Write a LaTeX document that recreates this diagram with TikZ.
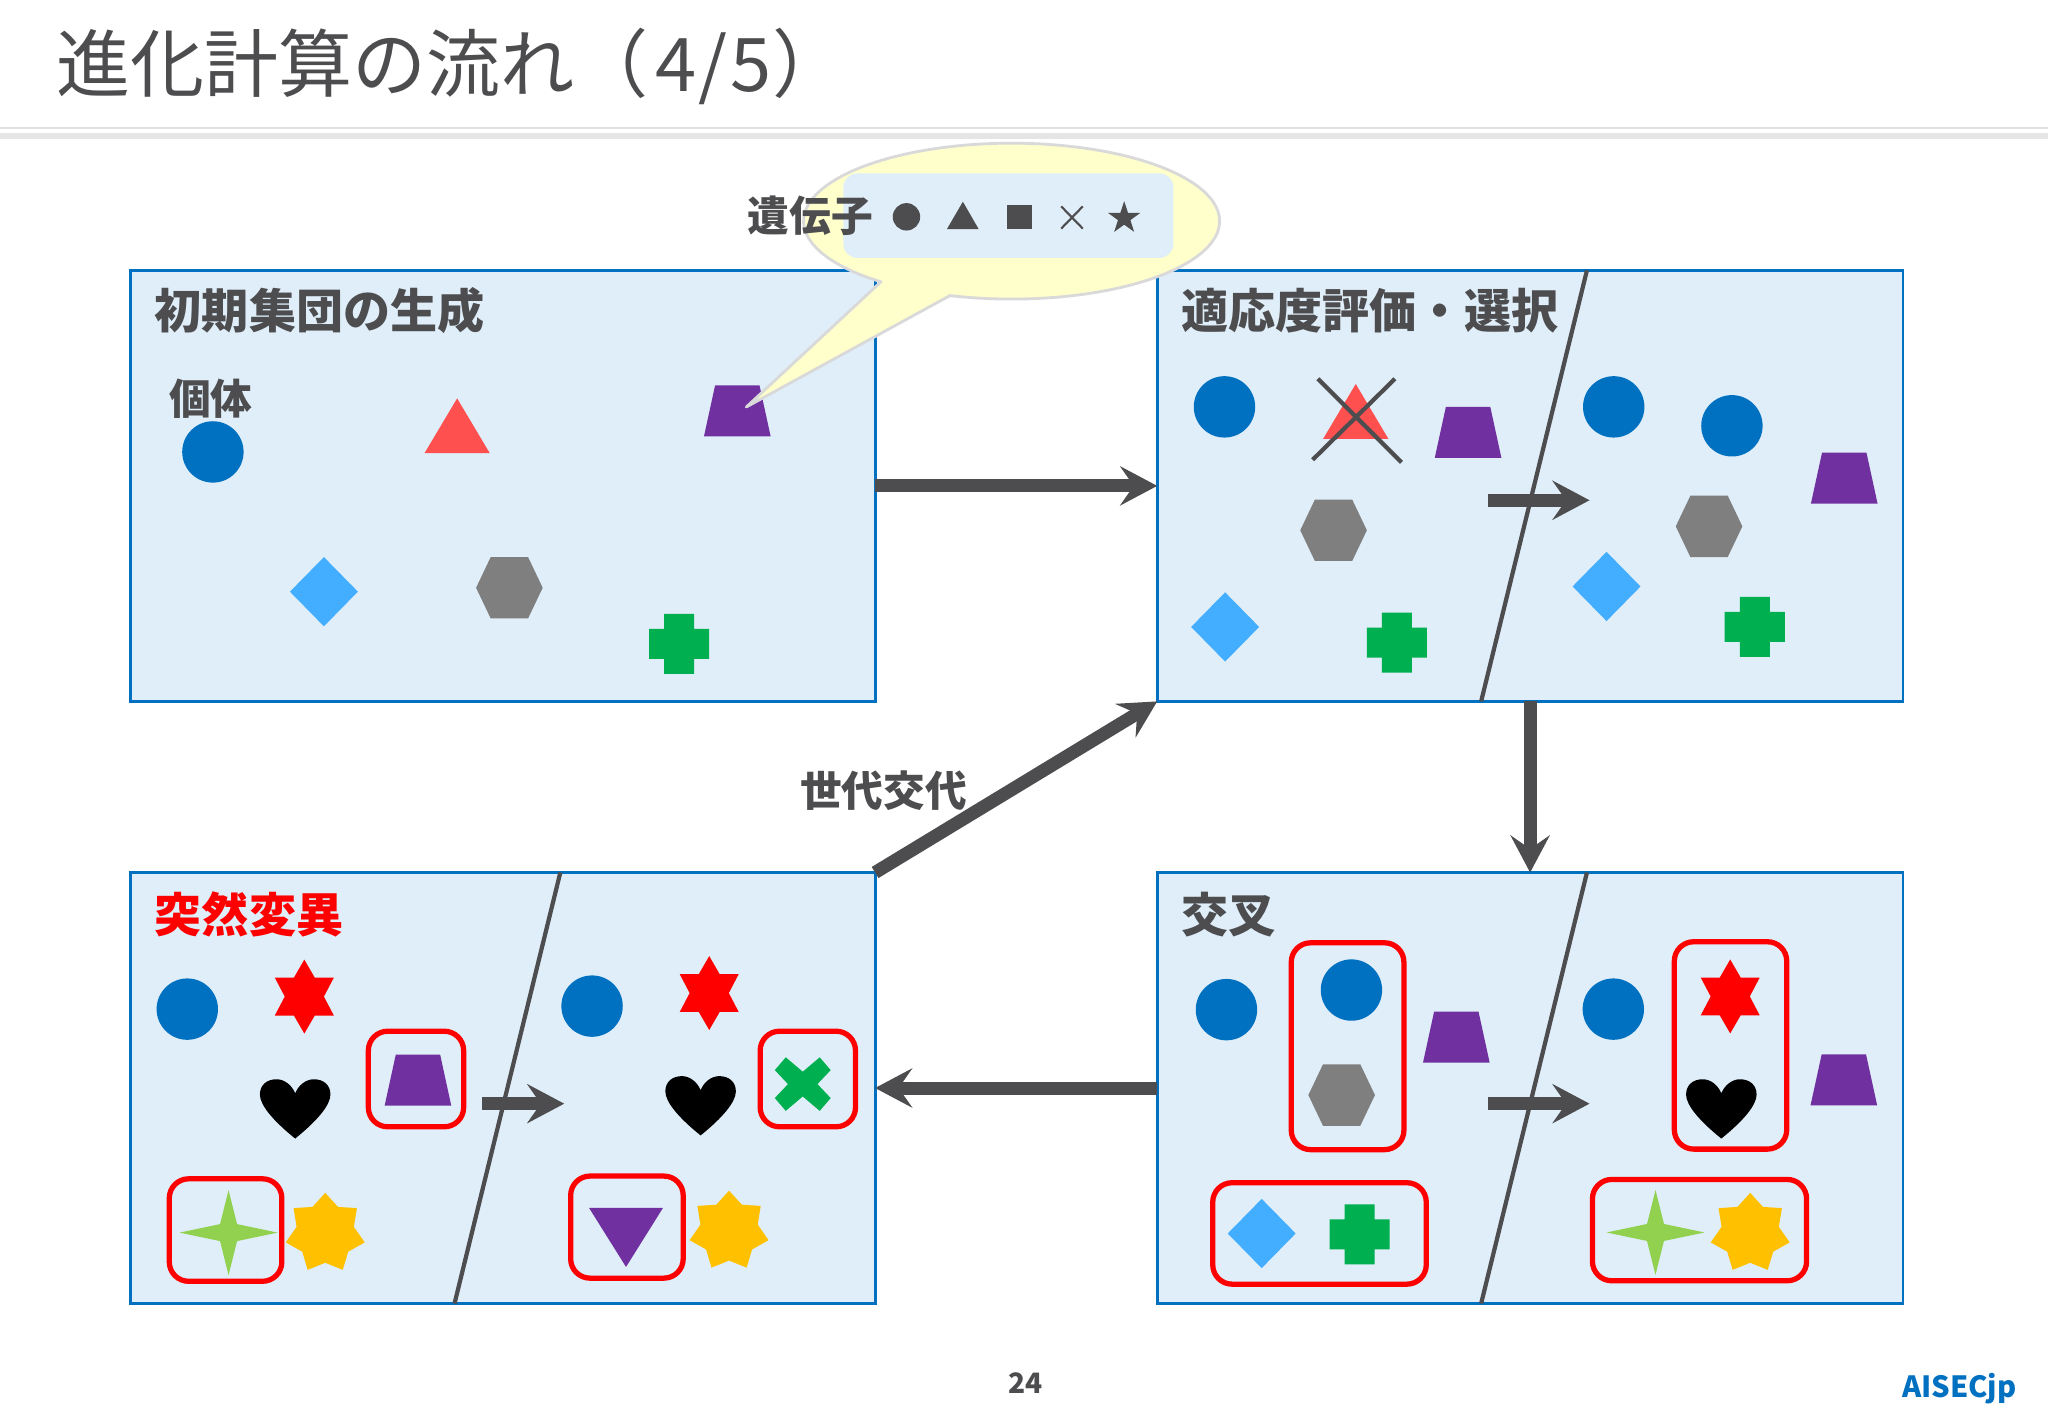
\documentclass[tikz,border=0pt]{standalone}
\usepackage{fontspec}
\setmainfont{Noto Sans CJK JP}
\usepackage{xcolor}
\usetikzlibrary{positioning,fit,arrows.meta}
\definecolor{darkg}{HTML}{4D4D4F}
\definecolor{panelb}{HTML}{DFEEF9}
\definecolor{panell}{HTML}{0070C0}
\definecolor{geneblue}{HTML}{0070C0}
\definecolor{genered}{HTML}{FF5050}
\definecolor{genepurple}{HTML}{7030A0}
\definecolor{genesky}{HTML}{43AEFF}
\definecolor{genegray}{HTML}{7F7F7F}
\definecolor{genegreen}{HTML}{00B050}
\definecolor{genelime}{HTML}{92D050}
\definecolor{genegold}{HTML}{FFC000}
\definecolor{calloutf}{HTML}{FFFFCC}
\definecolor{calloutl}{HTML}{D9D9D9}
\tikzset{
  panel/.style={draw=panell,fill=panelb,line width=.8pt,inner sep=0pt,outer sep=0pt},
  redbox/.style={draw=red,line width=1.5pt,rounded corners=5.5pt,inner sep=-.75pt,outer sep=0pt},
  headtext/.style={font=\bfseries\fontsize{13.4}{16}\selectfont,text=darkg,anchor=west,inner sep=0pt},
  subtext/.style={font=\bfseries\fontsize{11.86}{14}\selectfont,text=darkg,anchor=west,inner sep=0pt},
  split/.style={draw=darkg,line width=1.2pt},
  flow/.style={draw=darkg,line width=3.7pt,-{Stealth[length=.37cm,width=.39cm,inset=.135cm]}},
  pics/bluedot/.style={code={\fill[geneblue] (0,0) circle (23.5);}},
  pics/trap/.style={code={\fill[genepurple] (-17,-19.5) -- (17,-19.5) -- (25.5,19.5) -- (-25.5,19.5) -- cycle;}},
  pics/dia/.style={code={\fill[genesky] (0,-26.5) -- (26,0) -- (0,26.5) -- (-26,0) -- cycle;}},
  pics/hexa/.style={code={\fill[genegray] (-14.3,-23.5) -- (14.3,-23.5) -- (25.5,0) -- (14.3,23.5) -- (-14.3,23.5) -- (-25.5,0) -- cycle;}},
  pics/plus/.style={code={\fill[genegreen] (-11.5,-23) -- (11.5,-23) -- (11.5,-11.5) -- (23,-11.5) -- (23,11.5) -- (11.5,11.5) -- (11.5,23) -- (-11.5,23) -- (-11.5,11.5) -- (-23,11.5) -- (-23,-11.5) -- (-11.5,-11.5) -- cycle;}},
  pics/tri/.style={code={\fill[genered] (0,-21) -- (25,21) -- (-25,21) -- cycle;}},
  pics/hexstar/.style={code={\fill[red] (0,-28.3) -- (8,-14.5) -- (22.6,-14.5) -- (15,0) -- (22.6,14.5) -- (8,14.5) -- (0,28.3) -- (-8,14.5) -- (-22.6,14.5) -- (-15,0) -- (-22.6,-14.5) -- (-8,-14.5) -- cycle;}},
  pics/heart/.style={code={\fill[black] (0,22.7) .. controls (-17,9) and (-27,-3) .. (-27,-11) .. controls (-27,-18.5) and (-21.5,-22.7) .. (-14.3,-22.7) .. controls (-8,-22.7) and (-2.5,-18) .. (0,-12) .. controls (2.5,-18) and (8,-22.7) .. (14.3,-22.7) .. controls (21.5,-22.7) and (27,-18.5) .. (27,-11) .. controls (27,-3) and (17,9) .. (0,22.7) -- cycle;}},
  pics/sparkle/.style={code={\fill[genelime] (0,-32.5) -- (6.5,-6.5) -- (37.5,0) -- (6.5,6.5) -- (0,32.5) -- (-6.5,6.5) -- (-37.5,0) -- (-6.5,-6.5) -- cycle;}},
  pics/burst/.style={code={\fill[genegold] plot[samples at={0,...,13}] ({(mod(\x,2)==0?31:22.5)*cos(-90+\x*360/14)},{(mod(\x,2)==0?31:22.5)*sin(-90+\x*360/14)}) -- cycle;}},
  pics/cross/.style={code={\fill[genegreen] (-13,-20.5) -- (0,-9.5) -- (13,-20.5) -- (21.4,-10.7) -- (11.3,0) -- (21.4,10.7) -- (13,20.5) -- (0,9.5) -- (-13,20.5) -- (-21.4,10.7) -- (-11.3,0) -- (-21.4,-10.7) -- cycle;}},
  pics/downtri/.style={code={\fill[genepurple] (-28.3,-22.6) -- (28.3,-22.6) -- (0,22.6) -- cycle;}},
}
\begin{document}
\begin{tikzpicture}[x=0.013061cm,y=-0.013061cm]
\useasboundingbox (0,0) rectangle (1568,1085.67);
\fill[white] (0,0) rectangle (1568,1085.67);
% header
\node[anchor=west,inner sep=0pt,text=darkg,font=\fontsize{21.07}{25}\selectfont] (pagetitle) at (42.5,50.5) {進化計算の流れ（\kern1.85pt 4\kern.75pt/\kern.75pt 5\kern.4pt）};
\fill[black!12] (0,97.5) rectangle (1568,98.5);
\fill[black!10] (0,102) rectangle (1568,106.5);
% panels
\node[panel,fit={(100,207)(670,537)}] (init) {};
\node[panel,fit={(886,207)(1457,537)}] (evalsel) {};
\node[panel,fit={(100,668)(670,998)}] (mutate) {};
\node[panel,fit={(886,668)(1457,998)}] (crossover) {};
% flow
\draw[flow] (init) -- (evalsel);
\draw[flow] (evalsel) -- (crossover);
\draw[flow] (crossover) -- (mutate);
\draw[flow] (mutate.north east) -- (evalsel.south west);
\node[subtext] (gen) at (612,605) {世代交代};
% callout
\coordinate (tailtip) at (571.4,311.6);
\pic at (564.5,314.5) {trap};
\fill[calloutf,draw=calloutl,line width=.8pt,line join=round] (tailtip) -- (726.8,226.6) -- plot[domain=107.4:-231.1,samples=90] ({774.5+159.3*cos(\x)},{169.3+59.7*sin(\x)}) -- cycle;
\node[fill=panelb,rounded corners=4pt,inner sep=0pt,outer sep=0pt,fit={(645.7,132.7)(898.4,197.5)}] (genebar) {};
\node[subtext] (genelabel) at (572,165) {遺伝子};
\fill[darkg] (694,166) circle (10.5);
\fill[darkg] (737.2,154.4) -- (749.3,175.4) -- (725,175.4) -- cycle;
\fill[darkg] (771,157) rectangle (790,175.4);
\draw[darkg,line width=.6pt] (812.5,158) -- (829,175) (829,158) -- (812.5,175);
\fill[darkg] plot[samples at={0,...,9}] ({860.7+(mod(\x,2)==0?13:5)*cos(-90+\x*36)},{167+(mod(\x,2)==0?13:5)*sin(-90+\x*36)}) -- cycle;
% first panel
\node[headtext] (inittitle) at (118,238) {初期集団の生成};
\node[subtext] (indiv) at (129,305) {個体};
\pic at (163,346) {bluedot};
\pic at (350,326) {tri};
\pic at (248,453) {dia};
\pic at (390,450) {hexa};
\pic at (520,493) {plus};
% second panel
\node[headtext] (evaltitle) at (904,238) {適応度評価・選択};
\draw[split] (1215,207) -- (1134,537);
\coordinate (evala) at (1139,383);
\coordinate (evalb) at (1217,383);
\draw[flow] (evala) -- (evalb);
\pic at (937.5,311.5) {bluedot};
\pic at (1038,315) {tri};
\draw[darkg,line width=1.2pt] (1009,290) -- (1073,354) (1068,290) -- (1005,352);
\pic at (1124,331) {trap};
\pic at (1021,406) {hexa};
\pic at (938,480) {dia};
\pic at (1069.5,492) {plus};
\pic at (1235.5,311.5) {bluedot};
\pic at (1326,326) {bluedot};
\pic at (1412,366) {trap};
\pic at (1308.5,403) {hexa};
\pic at (1230,449) {dia};
\pic at (1343.5,480) {plus};
% mutation panel
\node[headtext,text=red] (muttitle) at (118,700) {突然変異};
\draw[split] (429,668) -- (348,998);
\coordinate (muta) at (369,845);
\coordinate (mutb) at (432,845);
\draw[flow] (muta) -- (mutb);
\pic at (143.4,772.6) {bluedot};
\pic at (233,763) {hexstar};
\pic at (226,849) {heart};
\node[redbox,fit={(280,787.5)(357,864.7)}] (mutboxa) {};
\pic at (320,827) {trap};
\node[redbox,fit={(127.6,900.5)(217.8,983)}] (mutboxb) {};
\pic at (175,943.7) {sparkle};
\pic at (249,944.3) {burst};
\pic at (453.3,770.3) {bluedot};
\pic at (543,760.3) {hexstar};
\pic at (536.4,846.6) {heart};
\node[redbox,fit={(580,787.5)(657,864.7)}] (mutboxc) {};
\pic at (614.6,830) {cross};
\node[redbox,fit={(434.9,898.4)(525.1,980.6)}] (mutboxd) {};
\pic at (479.3,947.4) {downtri};
\pic at (558.2,942.6) {burst};
% crossover panel
\node[headtext] (crosstitle) at (904,700) {交叉};
\draw[split] (1215,668) -- (1134,998);
\coordinate (crossa) at (1139,845);
\coordinate (crossb) at (1217,845);
\draw[flow] (crossa) -- (crossb);
\pic at (939,773) {bluedot};
\node[redbox,fit={(986.6,719.8)(1076.9,882.2)}] (crossboxa) {};
\pic at (1034.7,758) {bluedot};
\pic at (1027.2,838.4) {hexa};
\pic at (1115,794) {trap};
\node[redbox,fit={(926.5,903.5)(1094,985.2)}] (crossboxb) {};
\pic at (966,944.4) {dia};
\pic at (1041,945) {plus};
\pic at (1235.2,772.6) {bluedot};
\node[redbox,fit={(1279.9,719)(1370,881.8)}] (crossboxc) {};
\pic at (1324.7,762.9) {hexstar};
\pic at (1317.9,849) {heart};
\pic at (1411.7,826.8) {trap};
\node[redbox,fit={(1217.2,901)(1385.2,982.6)}] (crossboxd) {};
\pic at (1267.5,943.6) {sparkle};
\pic at (1340,944.3) {burst};
% footer
\node[text=darkg,font=\bfseries\fontsize{8}{10}\selectfont,inner sep=0pt] (pageno) at (785,1059) {24};
\node[text=panell,font=\bfseries\fontsize{8.3}{10}\selectfont,anchor=east,inner sep=0pt] (brand) at (1544.5,1063) {AISECjp};
\end{tikzpicture}
\end{document}
